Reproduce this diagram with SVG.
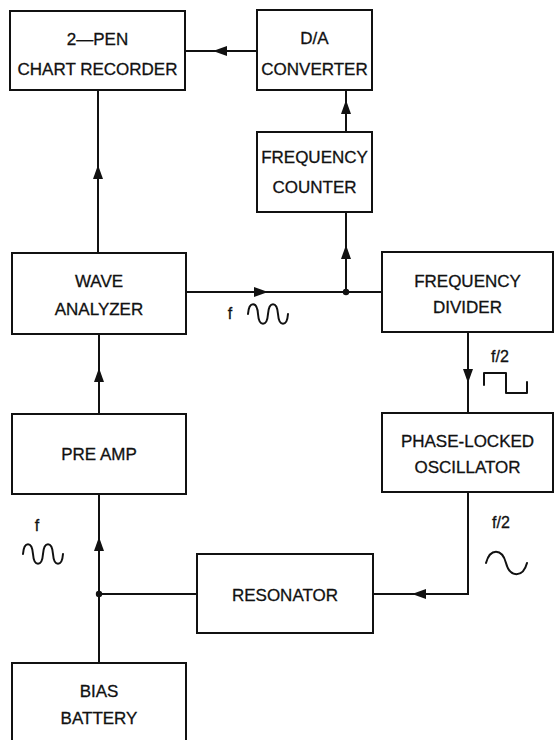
<svg xmlns="http://www.w3.org/2000/svg" width="555" height="740" viewBox="0 0 555 740">
  <style>
    .box { fill: #fff; stroke: #111; stroke-width: 2; }
    .wire { fill: none; stroke: #111; stroke-width: 2; }
    .wave { fill: none; stroke: #111; stroke-width: 2; stroke-linecap: round; stroke-linejoin: round; }
    .lbl { font-family: "Liberation Sans", Arial, sans-serif; font-size: 17px; fill: #111; stroke: #111; stroke-width: 0.3; text-anchor: middle; }
    .sig { font-family: "Liberation Sans", Arial, sans-serif; font-size: 16px; fill: #111; stroke: #111; stroke-width: 0.3; text-anchor: middle; }
  </style>
  <defs>
    <!-- arrowhead pointing along +x, tip at the origin -->
    <path id="ah" d="M0,0 L-14,-5 L-14,5 Z" fill="#111"/>
    <!-- two-period sine, 40 wide, starting at its midline -->
    <path id="sine2" d="M0,0 C1,-13 9,-13 10,0 C11,13 19,13 20,0 C21,-13 29,-13 30,0 C31,13 39,13 40,0"/>
  </defs>
  <rect width="555" height="740" fill="#fff"/>

  <g id="connectors">
    <path class="wire" d="M185,51 H257"/>
    <path class="wire" d="M98,90 V253"/>
    <path class="wire" d="M346,90 V132"/>
    <path class="wire" d="M346,212 V292"/>
    <path class="wire" d="M186,292 H382"/>
    <path class="wire" d="M99,334 V414"/>
    <path class="wire" d="M468,332 V413"/>
    <path class="wire" d="M468,492 V594 H373"/>
    <path class="wire" d="M197,594 H99"/>
    <path class="wire" d="M99,494 V663"/>
    <use href="#ah" transform="translate(213,51) rotate(180)"/>
    <use href="#ah" transform="translate(98,165) rotate(-90)"/>
    <use href="#ah" transform="translate(346,100) rotate(-90)"/>
    <use href="#ah" transform="translate(346,245) rotate(-90)"/>
    <use href="#ah" transform="translate(268,292)"/>
    <use href="#ah" transform="translate(99,368) rotate(-90)"/>
    <use href="#ah" transform="translate(468,383) rotate(90)"/>
    <use href="#ah" transform="translate(412,594) rotate(180)"/>
    <use href="#ah" transform="translate(99,537) rotate(-90)"/>
    <circle cx="346" cy="292" r="3.2" fill="#111"/>
    <circle cx="99" cy="594" r="3.2" fill="#111"/>
  </g>

  <g id="signals">
    <text class="sig" x="230" y="319">f</text>
    <use href="#sine2" class="wave" transform="translate(248,314)"/>
    <text class="sig" x="37" y="531">f</text>
    <use href="#sine2" class="wave" transform="translate(23,554)"/>
    <text class="sig" x="500" y="362">f/2</text>
    <path class="wave" d="M484,385 V373 H506 V393 H527 V382"/>
    <text class="sig" x="501" y="528">f/2</text>
    <path class="wave" d="M486,563 C490,548 502,548 506,563 C510,578 523,578 527,563"/>
  </g>

  <g id="chart-recorder">
    <rect class="box" x="10" y="11" width="175" height="79"/>
    <text class="lbl" x="97.5" y="45">2—PEN</text>
    <text class="lbl" x="97.5" y="75">CHART RECORDER</text>
  </g>
  <g id="da-converter">
    <rect class="box" x="257" y="10" width="115" height="80"/>
    <text class="lbl" x="314.5" y="44">D/A</text>
    <text class="lbl" x="314.5" y="75">CONVERTER</text>
  </g>
  <g id="frequency-counter">
    <rect class="box" x="257" y="132" width="115" height="80"/>
    <text class="lbl" x="314.5" y="163">FREQUENCY</text>
    <text class="lbl" x="314.5" y="193">COUNTER</text>
  </g>
  <g id="wave-analyzer">
    <rect class="box" x="12" y="253" width="174" height="81"/>
    <text class="lbl" x="99" y="287">WAVE</text>
    <text class="lbl" x="99" y="315">ANALYZER</text>
  </g>
  <g id="frequency-divider">
    <rect class="box" x="382" y="252" width="171" height="80"/>
    <text class="lbl" x="467.5" y="287">FREQUENCY</text>
    <text class="lbl" x="467.5" y="313">DIVIDER</text>
  </g>
  <g id="preamp">
    <rect class="box" x="12" y="414" width="174" height="80"/>
    <text class="lbl" x="99" y="460">PRE AMP</text>
  </g>
  <g id="phase-locked-oscillator">
    <rect class="box" x="382" y="413" width="171" height="79"/>
    <text class="lbl" x="467.5" y="447">PHASE-LOCKED</text>
    <text class="lbl" x="467.5" y="473">OSCILLATOR</text>
  </g>
  <g id="resonator">
    <rect class="box" x="197" y="554" width="176" height="79"/>
    <text class="lbl" x="285" y="601">RESONATOR</text>
  </g>
  <g id="bias-battery">
    <rect class="box" x="12" y="663" width="174" height="90"/>
    <text class="lbl" x="99" y="697">BIAS</text>
    <text class="lbl" x="99" y="724">BATTERY</text>
  </g>
</svg>
